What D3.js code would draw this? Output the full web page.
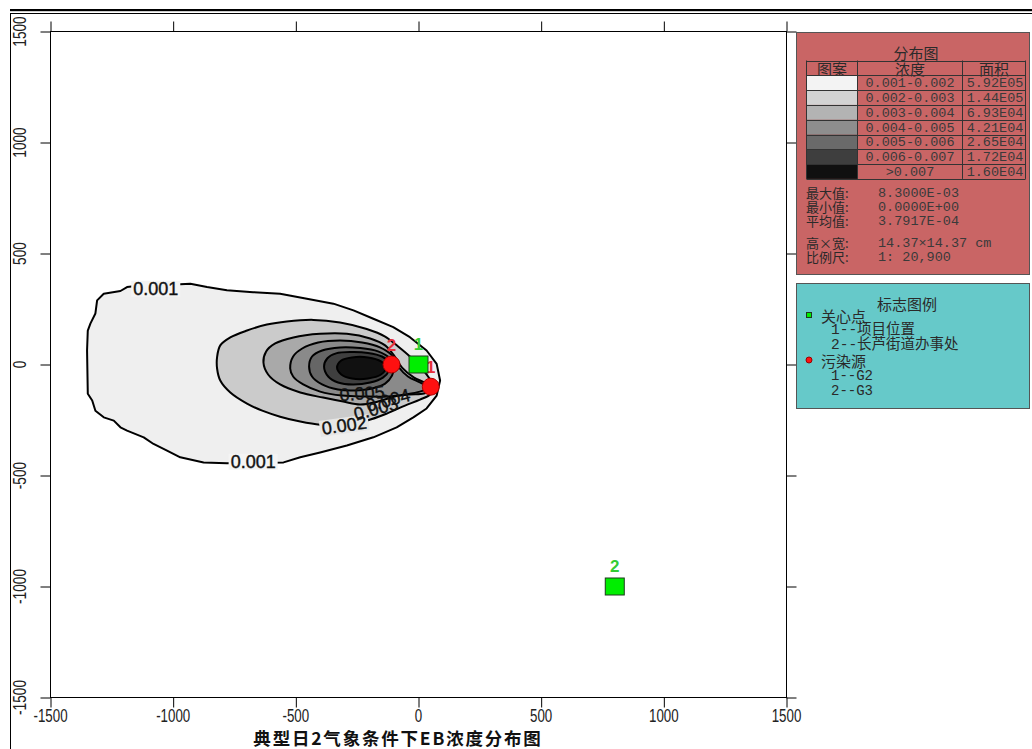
<!DOCTYPE html>
<html><head><meta charset="utf-8">
<script src="https://cdn.jsdelivr.net/npm/d3@7"></script>
<style>
html,body{margin:0;padding:0;background:#fff;}
svg{display:block;}
</style></head>
<body>
<svg id="chart" width="1032" height="749"></svg>
<script>
// ---------- DATA ----------
const xTicks = [-1500, -1000, -500, 0, 500, 1000, 1500];
const yTicks = [-1500, -1000, -500, 0, 500, 1000, 1500];
const chartTitle = "典型日2气象条件下EB浓度分布图";

const bandRanges = ["0.001-0.002","0.002-0.003","0.003-0.004","0.004-0.005","0.005-0.006","0.006-0.007",">0.007"];
const bandAreas  = ["5.92E05","1.44E05","6.93E04","4.21E04","2.65E04","1.72E04","1.60E04"];
const bandLevels = [0.001, 0.002, 0.003, 0.004, 0.005, 0.006, 0.007];

const statLabels = ["最大值:", "最小值:", "平均值:"];
const statValues = ["8.3000E-03", "0.0000E+00", "3.7917E-04"];
const sizeLabels = ["高×宽:", "比例尺:"];
const sizeValues = ["14.37×14.37 cm", "1: 20,900"];

const careSites = [ {id:"1", name:"项目位置", x:0, y:0}, {id:"2", name:"长芦街道办事处", x:800, y:-1000} ];
const sources   = [ {id:"1", name:"G2", x:50, y:-100}, {id:"2", name:"G3", x:-110, y:0} ];

// contour lines (data units, metres)
const contour001 = [[-1215,331],[-1188,349],[-1134,356],[-1052,361],[-971,361],[-930,364],[-862,349],[-781,334],[-674,326],[-564,319],[-455,296],[-347,274],[-265,244],[-184,206],[-103,168],[-35,123],[33,63],[74,3],[88,-72],[74,-140],[33,-198],[-21,-238],[-89,-283],[-184,-328],[-292,-365],[-401,-396],[-482,-418],[-550,-441],[-666,-444],[-781,-445],[-876,-441],[-971,-418],[-1025,-388],[-1080,-358],[-1120,-328],[-1188,-298],[-1215,-283],[-1242,-253],[-1283,-238],[-1317,-208],[-1330,-162],[-1348,-132],[-1351,63],[-1348,153],[-1337,185],[-1317,230],[-1310,289],[-1283,319]];
const contour002 = [[-821,33],[-808,86],[-767,122],[-699,153],[-618,180],[-537,194],[-428,201],[-320,189],[-211,160],[-136,126],[-83,81],[-35,36],[6,-9],[39,-54],[59,-99],[47,-135],[6,-158],[-55,-185],[-129,-221],[-211,-253],[-303,-271],[-401,-271],[-482,-257],[-564,-235],[-637,-208],[-699,-176],[-767,-126],[-808,-72],[-821,-18]];
const contour003 = [[-632,9],[-621,59],[-584,95],[-510,122],[-401,138],[-292,138],[-197,117],[-136,86],[-100,41],[-67,-14],[-18,-59],[31,-86],[51,-113],[22,-131],[-35,-135],[-96,-144],[-165,-167],[-238,-180],[-307,-167],[-389,-149],[-482,-126],[-564,-90],[-613,-45]];
const contour004 = [[-523,-18],[-511,36],[-474,72],[-409,99],[-320,108],[-230,99],[-157,77],[-108,41],[-83,-9],[-43,-54],[6,-81],[43,-104],[6,-122],[-55,-135],[-124,-144],[-218,-144],[-311,-140],[-401,-122],[-470,-90],[-511,-54]];
const contour005 = [[-446,-9],[-434,36],[-393,63],[-320,77],[-238,74],[-165,59],[-116,27],[-100,-9],[-108,-50],[-136,-86],[-189,-108],[-258,-117],[-328,-113],[-393,-90],[-434,-54]];
const contour006 = [[-385,-9],[-372,27],[-336,50],[-271,56],[-206,52],[-149,36],[-120,9],[-120,-27],[-145,-59],[-197,-81],[-267,-90],[-328,-81],[-368,-54]];
const contour007 = [[-332,-14],[-315,18],[-271,32],[-206,32],[-153,14],[-132,-14],[-153,-45],[-206,-63],[-271,-63],[-315,-45]];

const contourLabels = [
  {text:"0.001", x:-1071, y:341, angle:0, halo:"#f4f4f4"},
  {text:"0.001", x:-674, y:-438, angle:0, halo:"#f4f4f4"},
  {text:"0.002", x:-303, y:-275, angle:-8, halo:"#e6e6e6"},
  {text:"0.005", x:-230, y:-131, angle:-4, halo:null},
  {text:"0.004", x:-124, y:-162, angle:-15, halo:null},
  {text:"0.003", x:-173, y:-200, angle:-15, halo:null}
];

// ---------- STYLE ----------
const bandFills = ["#efefef","#cbcbcb","#a9a9a9","#8a8a8a","#666666","#3f3f3f","#111111"];
const swatchFills = ["#f3f3f3","#d3d3d3","#b3b3b3","#8e8e8e","#6a6a6a","#3e3e3e","#101010"];

const svg = d3.select("#chart");
const x = d3.scaleLinear().domain([-1500, 1500]).range([50.5, 786.5]);
const y = d3.scaleLinear().domain([-1500, 1500]).range([697.5, 31.5]);

// page frame lines
svg.append("rect").attr("x",10).attr("y",9).attr("width",1022).attr("height",2.2).attr("fill","#000");
svg.append("line").attr("x1",10).attr("x2",1032).attr("y1",13.5).attr("y2",13.5).attr("stroke","#000");
svg.append("line").attr("x1",10.5).attr("x2",10.5).attr("y1",13).attr("y2",749).attr("stroke","#000");

// contours
const contours = [contour001, contour002, contour003, contour004, contour005, contour006, contour007];
const curves = [d3.curveLinearClosed, d3.curveCatmullRomClosed, d3.curveCatmullRomClosed, d3.curveCatmullRomClosed, d3.curveCatmullRomClosed, d3.curveCatmullRomClosed, d3.curveCatmullRomClosed];
const gC = svg.append("g");
contours.forEach((pts, i) => {
  const line = d3.line().x(d => x(d[0])).y(d => y(d[1])).curve(curves[i]);
  gC.append("path").attr("d", line(pts)).attr("fill", bandFills[i])
    .attr("stroke", "#000").attr("stroke-width", 2).attr("stroke-linejoin","round");
});

// contour labels
contourLabels.forEach(d => {
  const g = gC.append("g").attr("transform", `translate(${x(d.x)},${y(d.y)}) rotate(${d.angle})`);
  const t = g.append("text").attr("text-anchor","middle").attr("dominant-baseline","central")
    .attr("font-family","Liberation Sans, Arial, sans-serif").attr("font-size",18)
    .attr("fill","#111").attr("stroke","#111").attr("stroke-width",0.4).text(d.text);
  if (d.halo) {
    const b = t.node().getBBox();
    g.insert("rect","text").attr("x",b.x-2).attr("y",b.y+2).attr("width",b.width+4).attr("height",b.height-4).attr("fill",d.halo);
  }
});

// axes frame
svg.append("rect").attr("x",x(-1500)).attr("y",y(1500)).attr("width",x(1500)-x(-1500)).attr("height",y(-1500)-y(1500))
  .attr("fill","none").attr("stroke","#000");

function styleAxis(g){ g.select(".domain").remove(); g.selectAll(".tick line").attr("stroke","#000"); g.selectAll(".tick text").remove(); }
svg.append("g").attr("transform",`translate(0,${y(-1500)})`).call(d3.axisBottom(x).tickValues(xTicks).tickSize(10)).call(styleAxis);
svg.append("g").attr("transform",`translate(0,${y(1500)})`).call(d3.axisTop(x).tickValues(xTicks).tickSize(10)).call(styleAxis);
svg.append("g").attr("transform",`translate(${x(-1500)},0)`).call(d3.axisLeft(y).tickValues(yTicks).tickSize(10)).call(styleAxis);
svg.append("g").attr("transform",`translate(${x(1500)},0)`).call(d3.axisRight(y).tickValues(yTicks).tickSize(10)).call(styleAxis);

const tickFont = "Liberation Sans, Arial, sans-serif";
svg.selectAll("text.xl").data(xTicks).join("text").attr("class","xl")
  .attr("transform", d => `translate(${x(d)},722) scale(0.72,1)`).attr("text-anchor","middle")
  .attr("font-family", tickFont).attr("font-size",18.5).attr("fill","#222")
  .text(d => d);
svg.selectAll("text.yl").data(yTicks).join("text").attr("class","yl")
  .attr("transform", d => `translate(20,${y(d)}) rotate(-90) scale(0.72,1)`)
  .attr("text-anchor","middle").attr("dominant-baseline","central")
  .attr("font-family", tickFont).attr("font-size",19).attr("fill","#222")
  .text(d => d);

// markers: sources (red circles), care sites (green squares)
const gM = svg.append("g");
gM.selectAll("circle.src").data(sources).join("circle").attr("class","src")
  .attr("cx", d => x(d.x)).attr("cy", d => y(d.y)).attr("r", 8.5)
  .attr("fill","#ff1010").attr("stroke","#b00000").attr("stroke-width",1);
gM.selectAll("text.srcl").data(sources).join("text").attr("class","srcl")
  .attr("x", d => x(d.x)).attr("y", d => y(d.y) - 14)
  .attr("text-anchor","middle").attr("font-family","Liberation Sans, Arial, sans-serif")
  .attr("font-size",17).attr("font-weight","bold").attr("fill","#e8303a").text(d => d.id);
gM.selectAll("rect.care").data(careSites).join("rect").attr("class","care")
  .attr("x", d => x(d.x) - 9.5).attr("y", d => y(d.y) - 8.5).attr("width",19).attr("height",17)
  .attr("fill","#00ee00").attr("stroke","#1e3a1e").attr("stroke-width",1);
gM.selectAll("text.carel").data(careSites).join("text").attr("class","carel")
  .attr("x", d => x(d.x)).attr("y", d => y(d.y) - 15)
  .attr("text-anchor","middle").attr("font-family","Liberation Sans, Arial, sans-serif")
  .attr("font-size",17).attr("font-weight","bold").attr("fill","#33cc33").text(d => d.id);

// bottom title
svg.append("text").attr("x",398).attr("y",744.5).attr("text-anchor","middle")
  .attr("font-family","Noto Sans CJK SC, sans-serif").attr("font-weight","bold")
  .attr("font-size",17.5).attr("letter-spacing",1.8).attr("fill","#111").text(chartTitle);

// ---------- LEGEND 1 ----------
const cjk = "Noto Sans CJK SC, sans-serif";
const mono = "Liberation Mono, DejaVu Sans Mono, monospace";
const L1 = svg.append("g");
L1.append("rect").attr("x",796.5).attr("y",32.5).attr("width",233).attr("height",242)
  .attr("fill","#c96565").attr("stroke","#555");
L1.append("text").attr("x",916).attr("y",52).attr("text-anchor","middle").attr("dominant-baseline","central")
  .attr("font-family",cjk).attr("font-size",15).attr("fill","#2a2a2a").text("分布图");
const tx = [806.5, 857.5, 962.5, 1025.5];
const rowH = 14.8, tTop = 60.5;
const headers = ["图案","浓度","面积"];
headers.forEach((h,i)=>{
  L1.append("text").attr("x",(tx[i]+tx[i+1])/2).attr("y",tTop+rowH/2+0.5).attr("text-anchor","middle")
    .attr("dominant-baseline","central").attr("font-family",cjk).attr("font-size",15).attr("fill","#2a2a2a").text(h);
});
bandRanges.forEach((r,i)=>{
  const yy = tTop + rowH*(i+1);
  L1.append("rect").attr("x",tx[0]).attr("y",yy).attr("width",tx[1]-tx[0]).attr("height",rowH).attr("fill",swatchFills[i]);
  L1.append("text").attr("x",(tx[1]+tx[2])/2).attr("y",yy+rowH/2+1).attr("text-anchor","middle").attr("dominant-baseline","central")
    .attr("font-family",mono).attr("font-size",13.5).attr("fill","#3a3a3a").text(r);
  L1.append("text").attr("x",(tx[2]+tx[3])/2+1).attr("y",yy+rowH/2+1).attr("text-anchor","middle").attr("dominant-baseline","central")
    .attr("font-family",mono).attr("font-size",13.5).attr("fill","#3a3a3a").text(bandAreas[i]);
});
const tBottom = tTop + rowH*(bandRanges.length+1);
for (let i=0;i<=bandRanges.length+1;i++){
  L1.append("line").attr("x1",tx[0]).attr("x2",tx[3]).attr("y1",Math.round(tTop+rowH*i)+0.5).attr("y2",Math.round(tTop+rowH*i)+0.5).attr("stroke","#333");
}
tx.forEach(v=>{ L1.append("line").attr("x1",v).attr("x2",v).attr("y1",tTop).attr("y2",tBottom).attr("stroke","#333"); });

statLabels.forEach((s,i)=>{
  const yy = 192 + i*14;
  L1.append("text").attr("x",806).attr("y",yy).attr("dominant-baseline","central").attr("font-family",cjk).attr("font-size",13).attr("fill","#2a2a2a").text(s);
  L1.append("text").attr("x",878).attr("y",yy+1).attr("dominant-baseline","central").attr("font-family",mono).attr("font-size",13.5).attr("fill","#3a3a3a").text(statValues[i]);
});
sizeLabels.forEach((s,i)=>{
  const yy = 242 + i*14.5;
  L1.append("text").attr("x",806).attr("y",yy).attr("dominant-baseline","central").attr("font-family",cjk).attr("font-size",13).attr("fill","#2a2a2a").text(s);
  L1.append("text").attr("x",878).attr("y",yy+1).attr("dominant-baseline","central").attr("font-family",mono).attr("font-size",13.5).attr("fill","#3a3a3a").text(sizeValues[i]);
});

// ---------- LEGEND 2 ----------
const L2 = svg.append("g");
L2.append("rect").attr("x",796.5).attr("y",283.5).attr("width",233).attr("height",125)
  .attr("fill","#66c9c9").attr("stroke","#555");
L2.append("text").attr("x",907).attr("y",303).attr("text-anchor","middle").attr("dominant-baseline","central")
  .attr("font-family",cjk).attr("font-size",15).attr("fill","#2a2a2a").text("标志图例");
L2.append("rect").attr("x",806.5).attr("y",312.5).attr("width",5).attr("height",5).attr("fill","#00ee00").attr("stroke","#1e3a1e");
L2.append("text").attr("x",821).attr("y",315).attr("dominant-baseline","central").attr("font-family",cjk).attr("font-size",15).attr("fill","#2a2a2a").text("关心点");
careSites.forEach((c,i)=>{
  L2.append("text").attr("x",831).attr("y",330+i*15).attr("dominant-baseline","central").attr("font-family",mono+", Noto Sans CJK SC").attr("font-size",14.5).attr("fill","#2a2a2a").text(c.id+"--"+c.name);
});
L2.append("circle").attr("cx",809).attr("cy",360).attr("r",3).attr("fill","#ff1010").attr("stroke","#900");
L2.append("text").attr("x",821).attr("y",360).attr("dominant-baseline","central").attr("font-family",cjk).attr("font-size",15).attr("fill","#2a2a2a").text("污染源");
sources.forEach((c,i)=>{
  L2.append("text").attr("x",831).attr("y",376+i*14.5).attr("dominant-baseline","central").attr("font-family",mono+", Noto Sans CJK SC").attr("font-size",14).attr("fill","#2a2a2a").text(c.id+"--"+c.name);
});
</script>
</body></html>
